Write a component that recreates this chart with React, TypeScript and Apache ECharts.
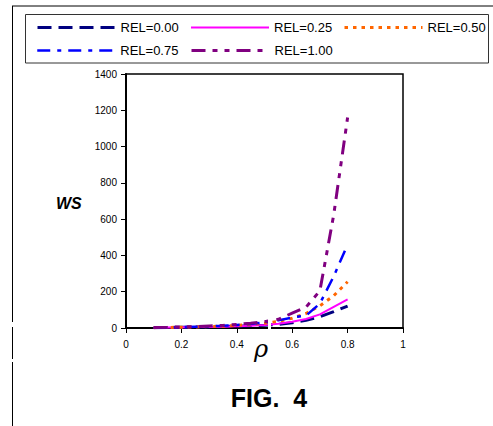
import React, { useEffect, useRef } from "react";
import * as echarts from "echarts";

const rho = [0.1, 0.15, 0.2, 0.25, 0.3, 0.35, 0.4, 0.45, 0.5, 0.55, 0.6, 0.65, 0.7, 0.75, 0.8];
const rel000 = [2, 3, 4, 5, 6, 8, 10, 12, 15, 20, 29, 43, 62, 90, 121];
const rel025 = [2, 3, 4, 5, 6, 7, 9, 12, 17, 24, 34, 50, 75, 117, 158];
const rel050 = [2, 3, 4, 6, 8, 10, 14, 19, 26, 37, 54, 80, 122, 178, 255];
const rel075 = [2, 3, 5, 7, 9, 12, 17, 22, 30, 42, 58, 68, 135, 285, 460];
const rel100 = [3, 4, 6, 8, 11, 14, 20, 26, 35, 48, 82, 115, 205, 625, 1160];
const xTicks = [0, 0.2, 0.4, 0.6, 0.8, 1];
const yMax = 1400;

const seriesDefs = [
  { name: "REL=0.00", data: rel000, color: "#000080", width: 3, dash: [14, 7] },
  { name: "REL=0.25", data: rel025, color: "#FF00FF", width: 2, dash: "solid" },
  { name: "REL=0.50", data: rel050, color: "#FF6600", width: 3, dash: [3.5, 5] },
  { name: "REL=0.75", data: rel075, color: "#0000FF", width: 2.5, dash: [13, 7, 4, 7] },
  { name: "REL=1.00", data: rel100, color: "#800080", width: 3, dash: [14, 7, 5, 7, 5, 7] },
];
const legendSlots = [
  [36, 21],
  [190, 21],
  [343, 21],
  [36, 44],
  [190, 44],
];

export default function App() {
  const ref = useRef<HTMLDivElement>(null);
  useEffect(() => {
    const chart = echarts.init(ref.current!, null, { renderer: "svg" });
    const legends = seriesDefs.map((s, i) => ({
      orient: "horizontal",
      left: legendSlots[i][0],
      top: legendSlots[i][1],
      itemWidth: 78,
      itemHeight: 10,
      itemTextGap: 3,
      padding: 0,
      itemStyle: { opacity: 0 },
      lineStyle: { width: "inherit", type: "inherit" },
      textStyle: { fontFamily: "Liberation Sans, Arial", fontSize: 13, color: "#000" },
      data: [s.name],
    }));
    chart.setOption({
      animation: false,
      backgroundColor: "#fff",
      textStyle: { fontFamily: "Liberation Sans, Arial" },
      legend: legends,
      grid: {
        left: 126,
        right: 90,
        top: 74,
        bottom: 98,
        show: true,
        borderColor: "#000",
        borderWidth: 1.5,
        backgroundColor: "transparent",
      },
      xAxis: {
        type: "value",
        min: 0,
        max: 1,
        interval: 0.2,
        axisLine: { show: true, onZero: false, lineStyle: { color: "#000", width: 2 } },
        axisTick: { show: true, inside: false, length: 5, lineStyle: { color: "#000" } },
        axisLabel: {
          color: "#000",
          fontSize: 10,
          margin: 11,
          formatter: (v: number) => {
            const t = xTicks.find((x) => Math.abs(x - v) < 1e-9);
            return t === undefined ? "" : String(t);
          },
        },
        splitLine: { show: false },
      },
      yAxis: {
        type: "value",
        min: 0,
        max: yMax,
        interval: 200,
        axisLine: { show: true, lineStyle: { color: "#000", width: 2 } },
        axisTick: { show: true, inside: false, length: 5, lineStyle: { color: "#000" } },
        axisLabel: { color: "#000", fontSize: 10, margin: 9, formatter: (v: number) => String(v) },
        splitLine: { show: false },
      },
      series: seriesDefs.map((s) => ({
        name: s.name,
        type: "line",
        data: rho.map((x, i) => [x, s.data[i]]),
        showSymbol: false,
        symbol: "none",
        color: s.color,
        lineStyle: { color: s.color, width: s.width, type: s.dash },
        itemStyle: { color: s.color },
      })),
      graphic: [
        { type: "line", shape: { x1: 12, y1: 6, x2: 493, y2: 6 }, style: { stroke: "#000", lineWidth: 1 } },
        { type: "line", shape: { x1: 12.5, y1: 6, x2: 12.5, y2: 322 }, style: { stroke: "#000", lineWidth: 1 } },
        { type: "line", shape: { x1: 12.5, y1: 327, x2: 12.5, y2: 359 }, style: { stroke: "#000", lineWidth: 1 } },
        { type: "line", shape: { x1: 12.5, y1: 362, x2: 12.5, y2: 426 }, style: { stroke: "#000", lineWidth: 1 } },
        {
          type: "rect",
          shape: { x: 25.5, y: 14.5, width: 463, height: 48.5 },
          style: { fill: "none", stroke: "#333", lineWidth: 1 },
          z: 10,
        },
        {
          type: "rect",
          shape: { x: 268, y: 318, width: 3, height: 12 },
          style: { fill: "#fff" },
          z: 100,
        },
        {
          type: "text",
          x: 261,
          y: 349,
          style: {
            text: "ρ",
            font: "italic 24px 'DejaVu Serif', 'Liberation Serif', serif",
            fill: "#000",
            align: "center",
            verticalAlign: "middle",
          },
        },
        {
          type: "text",
          x: 56,
          y: 203,
          style: {
            text: "WS",
            font: "italic bold 16px 'Liberation Sans', Arial",
            fill: "#000",
            verticalAlign: "middle",
          },
        },
        {
          type: "text",
          x: 269,
          y: 398,
          style: {
            text: "FIG.  4",
            font: "bold 25px 'Liberation Sans', Arial",
            fill: "#000",
            align: "center",
            verticalAlign: "middle",
          },
        },
      ],
    });
    return () => chart.dispose();
  }, []);
  return <div ref={ref} style={{ width: 493, height: 426, position: "absolute", left: 0, top: 0 }} />;
}
